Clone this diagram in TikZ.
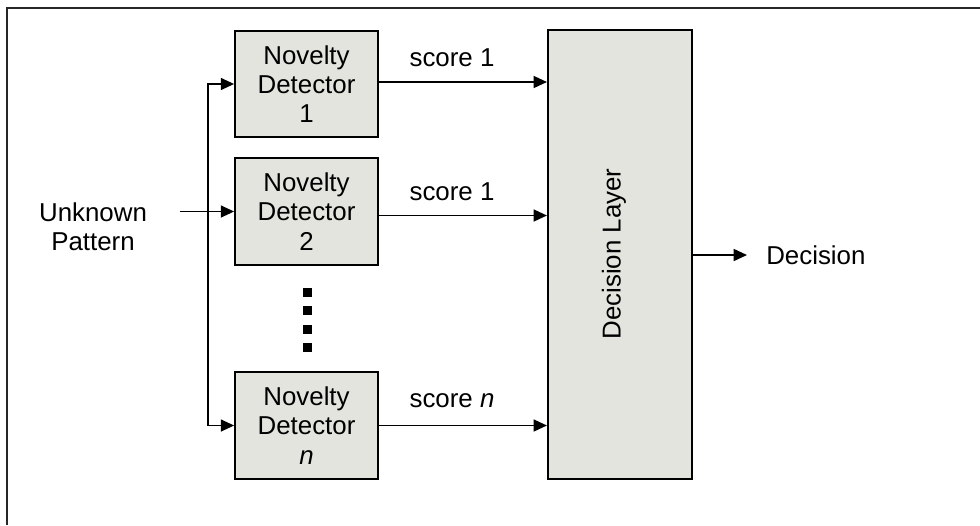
\documentclass[tikz,border=0pt]{standalone}
\usepackage{fontspec}
\setmainfont{Liberation Sans}
\usetikzlibrary{arrows.meta}
\definecolor{boxgray}{HTML}{E4E4DF}
\tikzset{
  detbox/.style={draw, line width=1.6pt, fill=boxgray, minimum width=107pt,
    minimum height=80pt, inner sep=0pt, align=center},
  layerbox/.style={draw, line width=1.6pt, fill=boxgray, minimum width=108pt,
    minimum height=336.75pt, inner sep=0pt},
  arr/.style={line width=1.2pt, -{Triangle[length=10pt,width=9pt]}},
  lbl/.style={inner sep=0pt, align=center},
  frameline/.style={line width=1.6pt, black!85}
}
\begin{document}
\begin{tikzpicture}[x=0.75pt, y=-0.75pt, font=\fontsize{19.4}{22}\selectfont]
\useasboundingbox (0,0) rectangle (980,525);

% outer frame (left and top edges)
\draw[frameline] (7,525) -- (7,8) -- (980,8);

% detectors
\node[detbox] (d1) at (306.5,84) {Novelty\\Detector\\1};
\node[detbox] (d2) at (306.5,211.5) {Novelty\\Detector\\2};
\node[detbox] (dn) at (306.5,425.5) {Novelty\\Detector\\\textit{n}};

% ellipsis between detectors
\foreach \yy in {292,310.5,329,347.5}
  \fill (302.5,\yy-4.5) rectangle (311.5,\yy+4.5);

% decision layer
\node[layerbox] (dl) at (620,254.5) {};
\node[lbl, rotate=90] (dltxt) at (614,254) {Decision Layer};

% input
\node[lbl] (inp) at (93,227) {Unknown\\Pattern};
\coordinate (istart) at (180,211.5);
\coordinate (btop) at (208,84);
\coordinate (bbot) at (208,425.5);
\draw[arr] (istart) -- (d2.west);
\draw[arr] (bbot) -- (btop) -- (d1.west);
\draw[arr] (btop) -- (bbot) -- (dn.west);

% scores
\draw[arr] ([yshift=1.5pt]d1.east) -- ([yshift=1.5pt]d1.east -| dl.west);
\draw[arr] ([yshift=-3pt]d2.east) -- ([yshift=-3pt]d2.east -| dl.west);
\draw[arr] (dn.east) -- (dn.east -| dl.west);
\node[lbl] (s1) at (452,58) {score 1};
\node[lbl] (s2) at (452,192) {score 1};
\node[lbl] (sn) at (452,401) {score \textit{n}};

% output
\coordinate (oend) at (747,255);
\draw[arr] (dl.east |- oend) -- (oend);
\node[lbl, anchor=west] (dec) at (766,255) {Decision};
\end{tikzpicture}
\end{document}
